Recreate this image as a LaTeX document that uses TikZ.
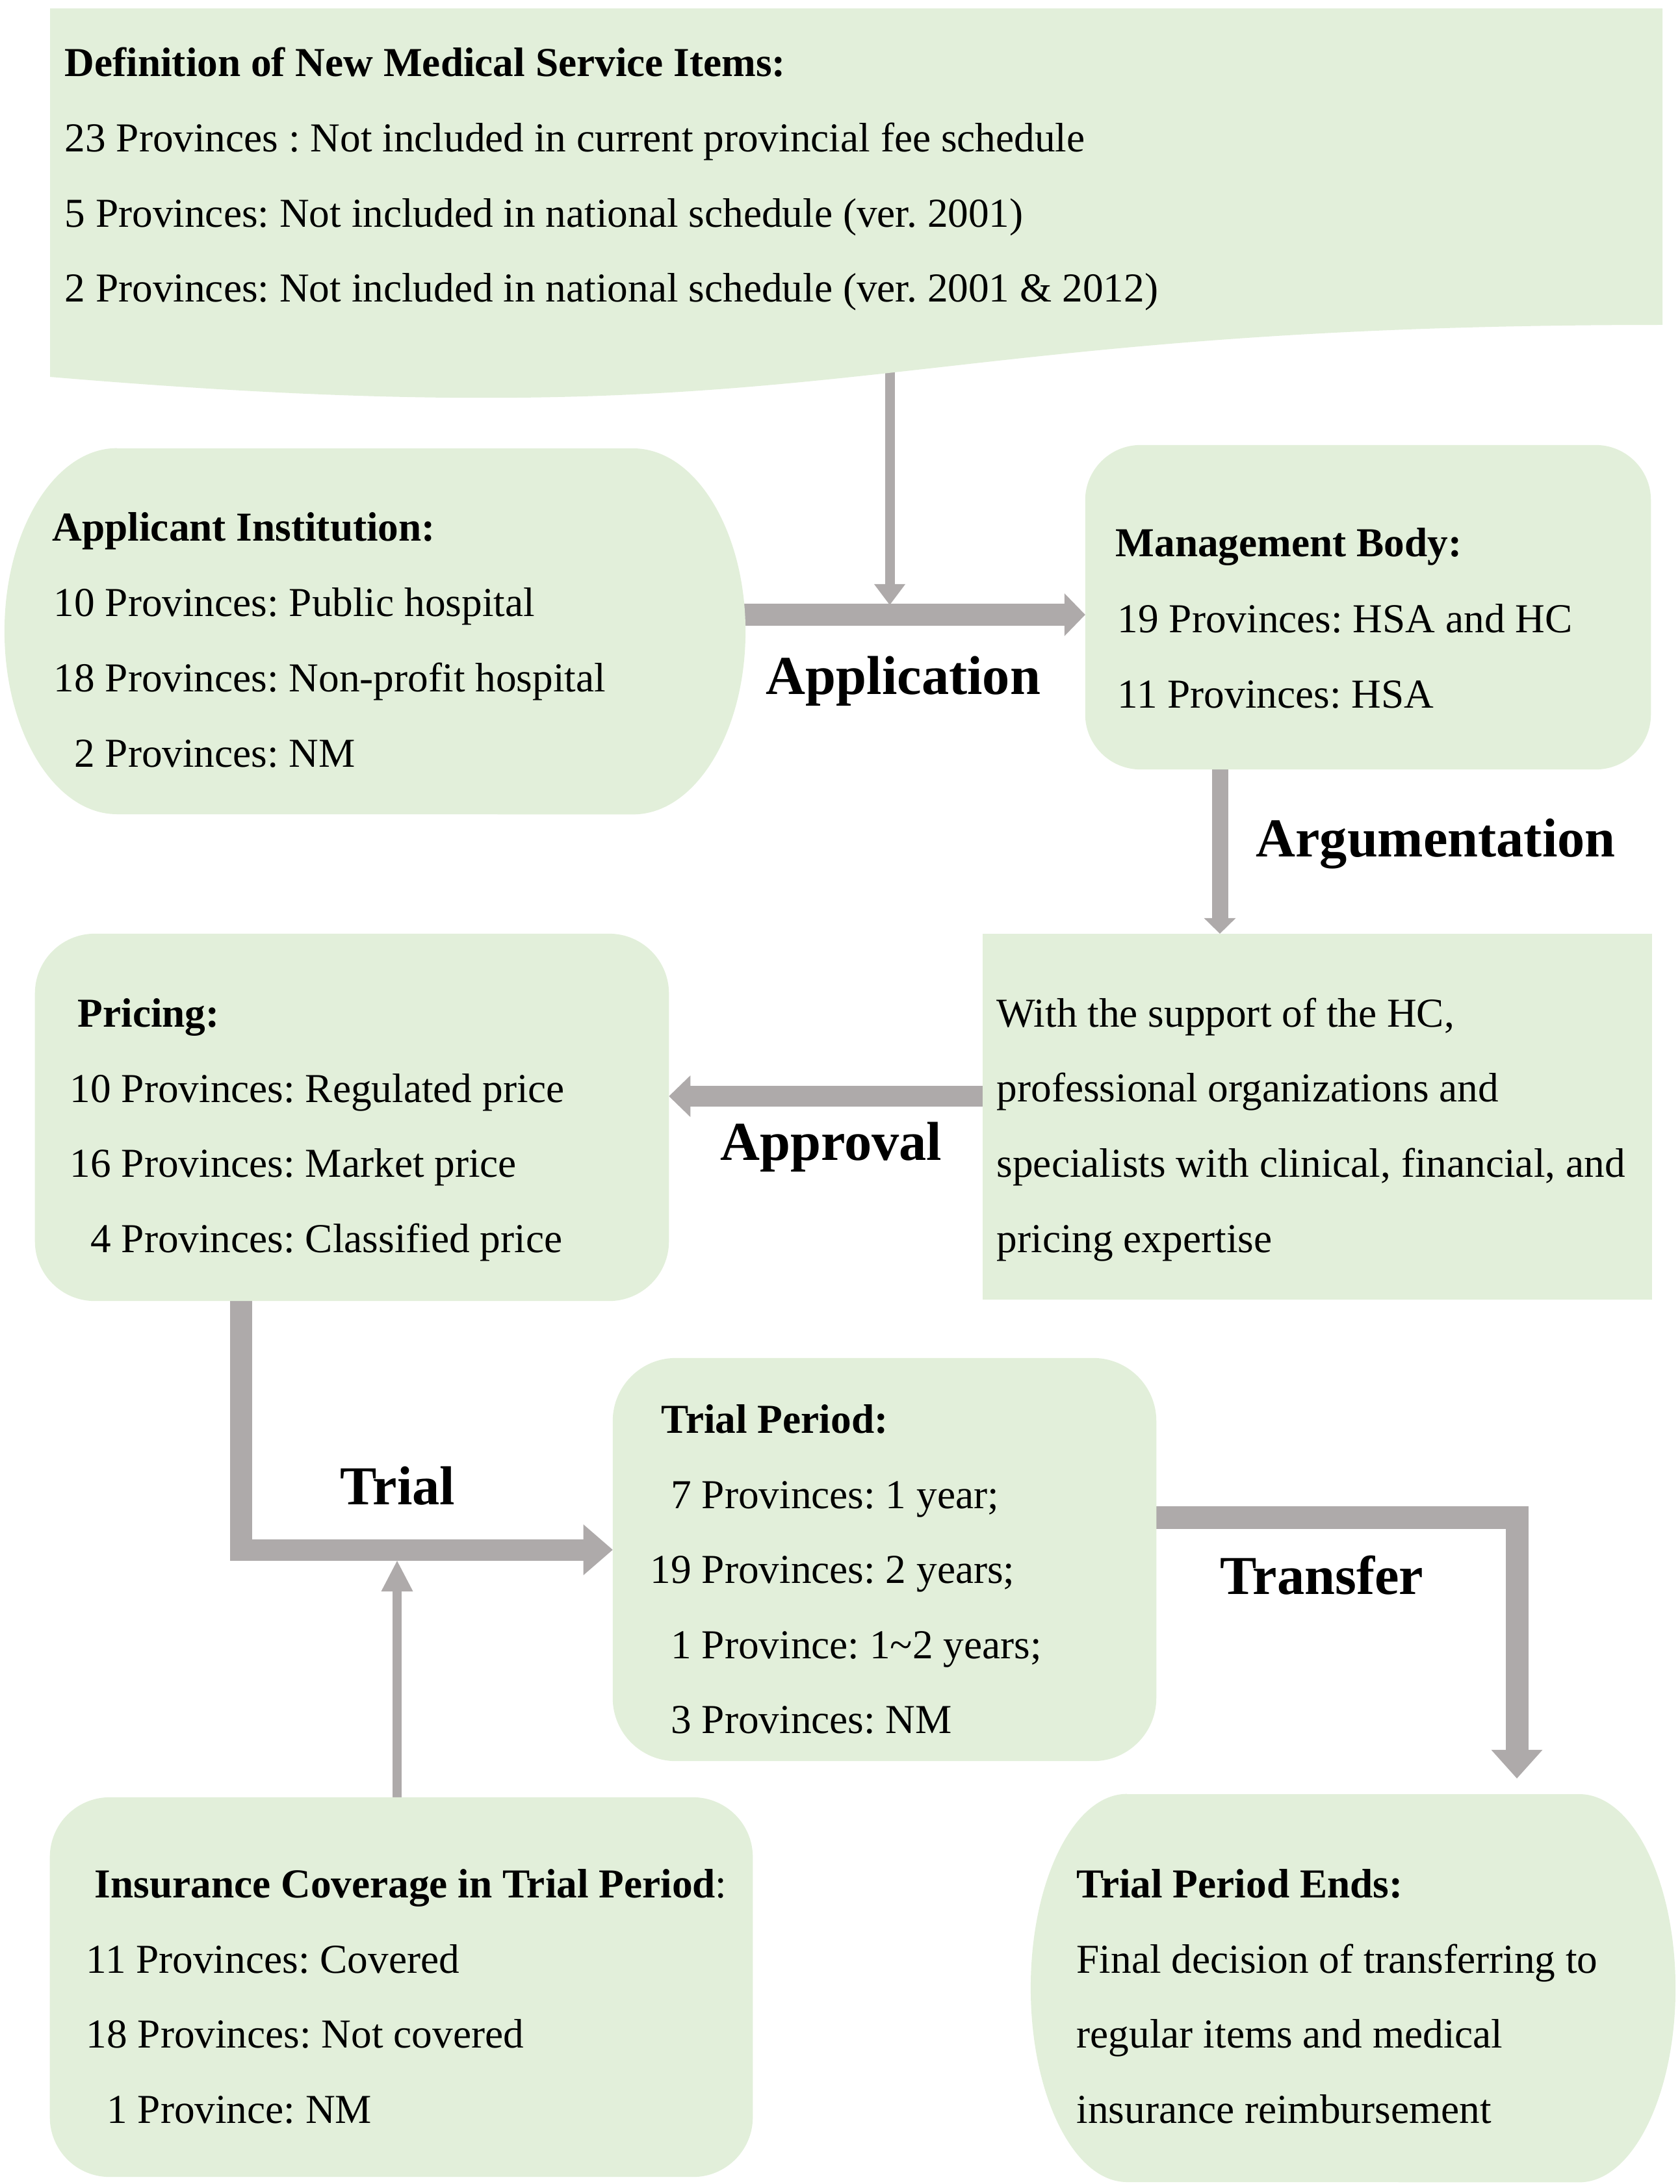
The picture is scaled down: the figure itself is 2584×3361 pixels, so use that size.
\documentclass[tikz,border=0pt]{standalone}
\usepackage{fontspec}
\setmainfont{Liberation Serif}
\usetikzlibrary{arrows.meta,calc}
\definecolor{boxgreen}{HTML}{E2EFDA}
\definecolor{arrgray}{HTML}{AEAAAA}
\pgfdeclarelayer{back}
\pgfsetlayers{back,main}
\frenchspacing
\begin{document}
\frenchspacing
\begin{tikzpicture}[x=0.01cm,y=-0.01cm,
  box/.style={fill=boxgreen, inner sep=0pt, outer sep=0pt},
  geom/.style={inner sep=0pt, outer sep=0pt},
  txt/.style={anchor=base west, inner sep=0pt, font=\fontsize{18}{22}\selectfont\frenchspacing},
  hd/.style={anchor=base west, inner sep=0pt, font=\fontsize{18}{22}\selectfont\bfseries\frenchspacing},
  lbl/.style={anchor=base, inner sep=0pt, font=\fontsize{24}{29}\selectfont\bfseries},
  arr/.style n args={3}{arrgray, line width=#1, -{Triangle[length=#2, width=#3, line width=0pt]}}]
\useasboundingbox (0,0) rectangle (2584,3361);

% ---------- shapes ----------
\node[geom, minimum width=24.81cm, minimum height=6.07cm] (def) at (1317.5,316.5) {};
\fill[boxgreen] (77,13) -- (2558,13) -- (2558,500) .. controls (1317.5,500) and (1317.5,685) .. (77,580) -- cycle;

\node[geom, minimum width=11.4cm, minimum height=5.63cm] (app) at (577,971.5) {};
\fill[boxgreen] (180,690) -- (974,690) arc[start angle=90, end angle=-90, x radius=1.73cm, y radius=2.815cm]
  -- (180,1253) arc[start angle=270, end angle=90, x radius=1.73cm, y radius=2.815cm] -- cycle;

\node[geom, minimum width=9.92cm, minimum height=5.97cm] (tpe) at (2082,3059.5) {};
\fill[boxgreen] (1734,2761) -- (2430,2761) arc[start angle=90, end angle=-90, x radius=1.48cm, y radius=2.985cm]
  -- (1734,3358) arc[start angle=270, end angle=90, x radius=1.48cm, y radius=2.985cm] -- cycle;

\node[box, rounded corners=0.85cm, minimum width=8.7cm, minimum height=4.99cm] (mgmt) at (2105,934.5) {};
\node[box, minimum width=10.3cm, minimum height=5.63cm] (support) at (2027,1718.5) {};
\node[box, rounded corners=0.92cm, minimum width=9.75cm, minimum height=5.65cm] (pricing) at (541.5,1719.5) {};
\node[box, rounded corners=0.97cm, minimum width=8.36cm, minimum height=6.2cm] (trial) at (1361,2400) {};
\node[box, rounded corners=0.92cm, minimum width=10.81cm, minimum height=5.84cm] (ins) at (617.5,3058) {};

% ---------- connectors ----------
\begin{pgfonlayer}{back}
\coordinate (defout) at (1369,560);
\coordinate (appjoin) at (1369,931);
\coordinate (trialjoin) at (611,2402);
\draw[arr={0.15cm}{0.32cm}{0.48cm}] (defout) -- (appjoin);
\draw[arr={0.33cm}{0.32cm}{0.66cm}] ($(app.east)+(-10,-25.5)$) -- ($(mgmt.west)+(0,11.5)$);
\draw[arr={0.25cm}{0.24cm}{0.49cm}] ($(mgmt.south)+(-228,-10)$) -- ($(support.north)+(-150,0)$);
\draw[arr={0.32cm}{0.33cm}{0.64cm}] ($(support.west)+(10,-31.5)$) -- ($(pricing.east)+(0,-32.5)$);
\draw[arr={0.33cm}{0.45cm}{0.78cm}] ($(pricing.south)+(-170.5,-10)$) |- ($(trial.west)+(0,-15)$);
\draw[arr={0.14cm}{0.47cm}{0.49cm}] ($(ins.north)+(-6.5,10)$) -- (trialjoin);
\draw[arr={0.35cm}{0.44cm}{0.79cm}] ($(trial.east)+(-10,-65)$) -| ($(tpe.north)+(252,-24)$);
\end{pgfonlayer}

% ---------- texts ----------
\node[hd] (defh) at (99,118) {Definition of New Medical Service Items:};
\foreach \t [count=\i] in {{23 Provinces : Not included in current provincial fee schedule},
  {5 Provinces: Not included in national schedule (ver. 2001)},
  {2 Provinces: Not included in national schedule (ver. 2001 \& 2012)}}
  \node[txt] (def\i) at (99,{234+115.5*(\i-1)}) {\t};

\node[hd] (apph) at (80,832) {Applicant Institution:};
\foreach \t [count=\i] in {{10 Provinces: Public hospital},{18 Provinces: Non-profit hospital},{\hphantom{1}2 Provinces: NM}}
  \node[txt] (app\i) at (82,{948+116*(\i-1)}) {\t};

\node[hd] (mgmth) at (1716,856) {Management Body:};
\foreach \t [count=\i] in {{19 Provinces: HSA and HC},{11 Provinces: HSA}}
  \node[txt] (mgmt\i) at (1719,{973+116*(\i-1)}) {\t};

\foreach \t [count=\i] in {{With the support of the HC,},{professional organizations and},{specialists with clinical, financial, and},{pricing expertise}}
  \node[txt] (sup\i) at (1533,{1580+115.7*(\i-1)}) {\t};

\node[hd] (prih) at (119,1580) {Pricing:};
\foreach \t [count=\i] in {{10 Provinces: Regulated price},{16 Provinces: Market price},{\hphantom{1}4 Provinces: Classified price}}
  \node[txt] (pri\i) at (107,{1696+115.5*(\i-1)}) {\t};

\node[hd] (trih) at (1017,2205) {Trial Period:};
\foreach \t [count=\i] in {{\hphantom{1}7 Provinces: 1 year;},{19 Provinces: 2 years;},{\hphantom{1}1 Province: 1\textasciitilde2 years;},{\hphantom{1}3 Provinces: NM}}
  \node[txt] (tri\i) at (1000,{2321+115.5*(\i-1)}) {\t};

\node[hd] (insh) at (145,2920) {Insurance Coverage in Trial Period{\mdseries:}};
\foreach \t [count=\i] in {{11 Provinces: Covered},{18 Provinces: Not covered},{\hphantom{1}1 Province: NM}}
  \node[txt] (ins\i) at (132,{3036+115.5*(\i-1)}) {\t};

\node[hd] (tpeh) at (1656,2920) {Trial Period Ends:};
\foreach \t [count=\i] in {{Final decision of transferring to},{regular items and medical},{insurance reimbursement}}
  \node[txt] (tpe\i) at (1656,{3036+115.5*(\i-1)}) {\t};

% ---------- connector labels ----------
\node[lbl] (lapp) at (1390,1068) {Application};
\node[lbl] (larg) at (2209,1318) {Argumentation};
\node[lbl] (lapr) at (1279,1785) {Approval};
\node[lbl] (ltri) at (612,2315) {Trial};
\node[lbl] (ltra) at (2034,2453) {Transfer};
\end{tikzpicture}
\end{document}
